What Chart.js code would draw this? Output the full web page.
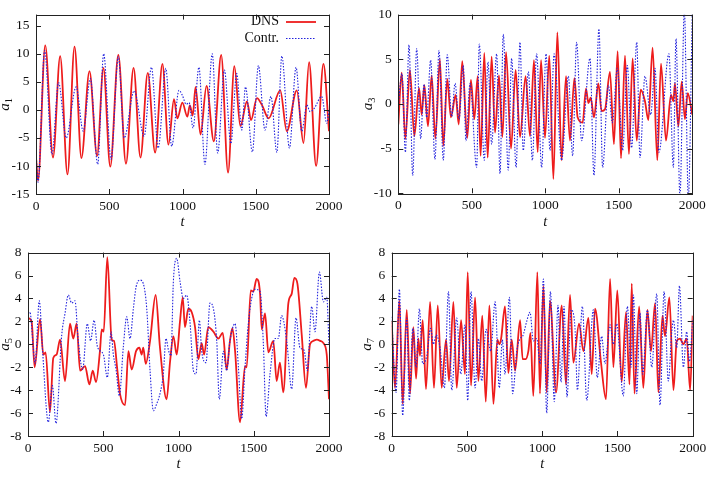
<!DOCTYPE html>
<html>
<head>
<meta charset="utf-8">
<script src="https://cdn.jsdelivr.net/npm/chart.js@4.4.0/dist/chart.umd.min.js"></script>
<style>
  html, body { margin: 0; padding: 0; background: #fff; }
  #wrap { position: relative; width: 712px; height: 477px; overflow: hidden; }
  #wrap canvas { position: absolute; }
</style>
</head>
<body>
<div id="wrap">
  <canvas id="c1" width="356" height="238" style="left:0;top:0"></canvas>
  <canvas id="c3" width="356" height="238" style="left:356px;top:0"></canvas>
  <canvas id="c5" width="356" height="239" style="left:0;top:238px"></canvas>
  <canvas id="c7" width="356" height="239" style="left:356px;top:238px"></canvas>
</div>
<script>
// --- DATA ---
const xTicks = [0, 500, 1000, 1500, 2000];

// a1
const a1Ticks = [-15, -10, -5, 0, 5, 10, 15];
const a1Range = [-15, 17];
const a1DnsT = [0, 14, 63, 116, 165, 215, 263, 310, 365, 417, 460, 507, 562, 614, 666, 713, 763, 813, 863, 904,
  942, 965, 999, 1033, 1050, 1070, 1089, 1123, 1164, 1214, 1264, 1311, 1354, 1395, 1440, 1468, 1508, 1542, 1588, 1667,
  1712, 1780, 1826, 1864, 1912, 1962, 2000];
const a1Dns = [-8.5, -12.6, 11.5, -8.5, 9.6, -11.5, 11.3, -8.6, 6.9, -8.2, 7.5, -10.1, 9.8, -9.6, 7.5, -8.5, 6.6, -7.6, 8.2, -6.2,
  1.9, -1.5, 1.3, -1.2, 0.8, -1.0, 4.1, -4.4, 4.3, -5.6, 9.8, -11.2, 7.8, -2.9, 1.5, -1.8, 2.1, 0.9, -1.5, 3.5,
  -3.8, 3.5, -5.9, 8.5, -10, 8.2, -3.8];
const a1CtrT = [0, 14, 59, 109, 154, 206, 274, 322, 371, 421, 462, 512, 562, 602, 670, 738, 788, 834, 886, 926,
  976, 999, 1025, 1045, 1072, 1112, 1153, 1203, 1240, 1286, 1330, 1370, 1405, 1430, 1477, 1518, 1563, 1604, 1644, 1678,
  1730, 1775, 1814, 1849, 1870, 1900, 1950, 1985, 2000];
const a1Ctr = [-7.4, -12.9, 10.6, -7.9, 4.9, -5.0, 4.1, -3.8, 5.6, -9.7, 10.0, -8.8, 9.5, -5.0, 3.4, -4.7, 7.6, -6.8, 7.4, -6.5,
  3.5, 2.6, 1.0, 1.3, -3.2, 7.6, -9.7, 10.0, -7.7, 7.1, -6.0, 6.5, -3.6, 4.1, -7.5, 7.9, -3.6, 2.4, -7.6, 9.6,
  -6.8, 7.6, -3.8, 0.9, -0.3, 0.3, 2.4, -2.4, 0];

// a3
const a3Ticks = [-10, -5, 0, 5, 10];
const a3Range = [-10, 10];
const a3DnsT = [0, 23, 48, 79, 109, 141, 159, 177, 202, 227, 252, 283, 306, 333, 358, 390, 411, 435, 469, 494,
  517, 540, 560, 585, 608, 635, 658, 685, 708, 733, 767, 798, 828, 866, 896, 923, 948, 971, 998, 1027,
  1055, 1082, 1111, 1141, 1168, 1198, 1220, 1254, 1277, 1293, 1309, 1331, 1361, 1383, 1406, 1440, 1467, 1492, 1515, 1542,
  1569, 1594, 1622, 1649, 1678, 1701, 1730, 1762, 1787, 1821, 1855, 1871, 1882, 1905, 1928, 1950, 1969, 2000];
const a3Dns = [-2.3, 3.5, -3.9, 3.8, -3.6, 1.8, -1.2, 2.1, -2.5, 3.2, -3.9, 5.0, -4.7, 2.8, -1.5, 1.0, -2.3, 4.8, -3.8, 2.7,
  -1.7, 3.1, -5.8, 5.7, -6.0, 5.3, -3.2, 3.2, -3.7, 5.8, -5.0, 3.8, -3.7, 3.1, -3.6, 4.9, -5.4, 4.9, -3.8, 5.4,
  -8.4, 8.0, -6.3, 3.1, -4.1, 2.9, -1.5, -2.1, 1.7, 0.1, 0.7, -1.5, 2.3, -0.8, -0.6, 3.6, -4.5, 5.9, -6.1, 5.4,
  -5.6, 5.1, -4.1, 1.6, 0.3, -1.8, 6.3, -6.3, 4.5, -4.1, 1.0, 0.3, 2.3, -2.5, 2.5, -1.7, 1.2, -1.2];
const a3CtrT = [0, 25, 48, 73, 98, 125, 152, 175, 193, 220, 249, 277, 306, 333, 363, 386, 413, 442, 460, 488,
  533, 551, 585, 610, 635, 669, 692, 714, 748, 771, 801, 828, 850, 885, 912, 941, 975, 1005, 1032, 1060,
  1111, 1157, 1186, 1213, 1247, 1304, 1331, 1365, 1390, 1429, 1456, 1490, 1526, 1558, 1587, 1622, 1644, 1678, 1717, 1746,
  1773, 1841, 1871, 1889, 1916, 1946, 1973, 2000];
const a3Ctr = [-0.1, 3.4, -5.4, 6.6, -8.0, 6.2, -3.9, 2.2, -1.5, 4.9, -6.2, 6.0, -6.3, 5.5, -1.4, 2.3, -1.7, 4.3, -4.1, 2.3,
  -7.1, 6.7, -6.3, 4.7, -4.5, 5.6, -7.8, 7.8, -7.4, 5.1, -7.1, 6.9, -5.2, 3.6, -6.3, 5.6, -7.1, 5.6, -5.2, 5.6,
  -6.3, 3.1, -5.8, 6.9, -4.1, 5.1, -8.0, 8.4, -7.1, 2.1, -2.1, 4.0, -5.2, 4.3, -4.9, 6.9, -6.0, 3.1, -1.2, 4.0,
  -5.4, 5.6, -7.1, 7.3, -10.3, 10.5, -10.5, 10.5];

// a5
const a5Ticks = [-8, -6, -4, -2, 0, 2, 4, 6, 8];
const a5Range = [-8, 8];
const a5DnsT = [0, 24, 44, 80, 102, 117, 146, 168, 190, 213, 246, 279, 301, 323, 346, 379, 408, 430, 452, 478,
  490, 503, 527, 556, 571, 594, 611, 645, 667, 689, 718, 740, 755, 766, 782, 811, 848, 877, 921, 944,
  966, 988, 1010, 1028, 1043, 1065, 1088, 1110, 1132, 1154, 1170, 1198, 1232, 1265, 1294, 1320, 1342, 1358, 1376, 1409,
  1442, 1453, 1480, 1497, 1519, 1542, 1553, 1575, 1597, 1630, 1652, 1674, 1696, 1730, 1752, 1770, 1790, 1819, 1847, 1874,
  1896, 1918, 1941, 1963, 1985, 2000];
const a5Dns = [2.3, 2.0, -2.0, 2.2, -0.9, -0.7, -5.9, -1.2, -0.9, 0.4, -3.2, 1.8, 0.5, 1.8, -2.3, -1.9, -3.5, -2.3, -3.3, -0.6,
  1.3, 1.1, 7.6, 0.4, 0.3, -2.3, -4.3, -5.3, -0.6, -2.2, -0.6, -0.3, -0.9, -0.3, -1.7, 0.3, 4.3, -0.3, -4.8, -1.5,
  0.7, -0.9, 2.0, 4.1, 1.5, 3.1, 2.8, 1.5, -1.3, 0.1, -0.9, 1.5, 1.1, 0.5, 1.0, -2.2, 0.3, 1.4, -0.6, -6.8,
  -1.9, -2.0, 4.7, 4.6, 5.7, 4.4, 1.3, 2.7, -0.7, 0.3, -3.2, -1.6, -4.2, 3.6, 4.4, 5.8, 5.3, 0.8, -3.8, 0,
  0.3, 0.4, 0.3, 0.1, -0.9, -4.8];
const a5CtrT = [0, 13, 35, 47, 75, 97, 135, 162, 186, 224, 246, 268, 290, 312, 334, 363, 394, 416, 439, 461,
  501, 527, 552, 567, 585, 607, 633, 656, 678, 700, 718, 744, 766, 789, 811, 833, 855, 877, 899, 917,
  933, 950, 966, 988, 1010, 1032, 1054, 1076, 1099, 1116, 1139, 1154, 1183, 1209, 1232, 1254, 1271, 1298, 1320, 1342,
  1376, 1398, 1420, 1442, 1464, 1486, 1508, 1542, 1564, 1582, 1608, 1641, 1663, 1685, 1719, 1752, 1781, 1807, 1834, 1856,
  1885, 1907, 1936, 1963, 1985, 2000];
const a5Ctr = [2.7, 2.8, -0.3, -1.7, 3.8, -0.6, -6.8, -3.6, -6.9, 0.8, 2.7, 4.3, 3.6, 3.8, 0.3, -2.2, 1.8, 0.3, 2.1, -0.2,
  -0.9, -2.9, 1.1, -0.9, -2.2, -4.5, -0.3, 2.4, 0.5, 3.1, 5.0, 5.6, 5.3, 3.1, -2.3, -5.8, -5.2, -4.3, -2.6, 0.5,
  -0.5, -1.0, 5.5, 7.5, 5.5, 4.0, 4.3, 2.0, -2.3, -2.6, 2.1, -0.6, -1.6, 3.6, 3.1, 0.3, -4.8, -0.6, -2.3, 0.3,
  1.8, -2.0, -6.5, -2.0, 1.8, 4.0, 4.8, 4.6, 0, -6.3, -2.6, 0.5, 0.5, 2.5, 0.3, -3.9, 2.3, -0.3, -0.5, -2.3,
  3.3, 1.1, 6.3, 3.7, 4.1, 0];

// a7
const a7Ticks = [-8, -6, -4, -2, 0, 2, 4, 6, 8];
const a7Range = [-8, 8];
const a7DnsT = [0, 22, 51, 73, 100, 122, 144, 162, 177, 188, 206, 228, 255, 281, 306, 332, 361, 381, 410, 432,
  461, 487, 505, 527, 554, 576, 602, 625, 649, 676, 702, 715, 727, 753, 775, 797, 820, 853, 870, 890,
  908, 922, 941, 968, 985, 1008, 1030, 1052, 1092, 1130, 1158, 1185, 1207, 1245, 1274, 1307, 1329, 1351, 1390, 1424, 1451,
  1473, 1499, 1528, 1557, 1580, 1595, 1613, 1644, 1672, 1699, 1723, 1750, 1772, 1799, 1816, 1845, 1872, 1894, 1916, 1938,
  1960, 1983, 2000];
const a7Dns = [2.0, -3.8, 3.8, -5.2, 3.0, -4.3, 1.5, -3.0, 0.5, -1.0, 2.1, -3.9, 3.7, -3.8, 3.4, -3.8, 0.4, -3.2, 3.7, -3.8,
  2.1, -2.6, 6.3, -3.6, 4.1, -3.2, 2.5, -5.0, 3.4, -5.2, 0.4, 0, 0.5, 3.3, -2.5, 0.4, -2.3, 2.1, -1.3, -1.3,
  -0.6, 1.0, -4.5, 6.3, -4.3, 5.1, -4.2, 3.8, -4.2, 3.4, -3.5, 4.3, -1.6, 1.8, -0.6, 2.3, -2.6, 3.1, -1.5, -4.8, 5.7,
  -2.0, 4.7, -3.3, 2.8, -3.5, 5.3, -4.3, 3.3, -3.8, 3.0, -0.6, 3.6, -4.2, 2.5, 0.7, 4.1, -4.0, 0.3, 0.5, 0,
  0.5, -4.0, 2.5];
const a7CtrT = [0, 29, 51, 73, 100, 117, 140, 162, 184, 206, 233, 259, 277, 295, 321, 350, 377, 399, 432, 459,
  487, 505, 527, 554, 576, 598, 627, 658, 687, 715, 735, 753, 782, 804, 831, 853, 870, 897, 919, 941,
  964, 986, 1008, 1030, 1055, 1080, 1105, 1125, 1145, 1165, 1192, 1218, 1234, 1267, 1296, 1340, 1366, 1395, 1417, 1451,
  1473, 1495, 1539, 1566, 1590, 1606, 1628, 1650, 1668, 1699, 1728, 1761, 1783, 1810, 1838, 1861, 1872, 1894, 1912, 1938,
  1960, 1978, 2000];
const a7Ctr = [2.4, -4.2, 4.8, -6.2, 2.3, -4.9, 1.4, -2.0, 3.1, -1.7, -1.0, 1.4, 0, 0.8, -0.3, -3.8, 4.6, -4.0, 2.3, -2.6,
  1.7, -4.9, 4.6, -3.8, 0.5, -3.2, 1.3, -0.6, 3.7, -3.8, 0.4, -2.6, 4.1, -4.3, -0.6, 0.5, 0.7, 2.0, 2.8, 0.3,
  0.5, -1.7, 5.7, -6.0, 4.6, -5.0, 3.4, -3.3, 3.3, -4.6, 3.0, 1.4, -4.0, 3.3, -4.9, 3.0, -2.9, 0.7, -1.7, 1.7,
  0, 1.8, -4.5, 3.3, -2.0, 4.3, -4.3, 2.7, -2.6, 3.0, -2.0, 4.4, -5.3, 4.6, -3.2, 1.1, 2.1, -0.3, 5.1, -2.0,
  1.1, -1.5, 2.1];

// --- STYLE ---
const RED = '#ee1c1c';
const BLUE = '#2222dd';
const SERIF = '"Liberation Serif", "DejaVu Serif", serif';
Chart.defaults.font.family = SERIF;
Chart.defaults.font.size = 13.5;
Chart.defaults.color = '#111';

const pts = (t, v) => t.map((x, i) => ({ x, y: v[i] }));

// frame + inward tics on all four sides (gnuplot style)
const framePlugin = {
  id: 'frame',
  afterDatasetsDraw(chart) {
    const { ctx, chartArea: a, scales } = chart;
    const len = 5;
    ctx.save();
    ctx.strokeStyle = '#222';
    ctx.lineWidth = 1;
    ctx.beginPath();
    scales.x.ticks.forEach(t => {
      const px = Math.round(scales.x.getPixelForValue(t.value)) + 0.5;
      ctx.moveTo(px, a.bottom); ctx.lineTo(px, a.bottom - len);
      ctx.moveTo(px, a.top); ctx.lineTo(px, a.top + len);
    });
    scales.y.ticks.forEach(t => {
      const py = Math.round(scales.y.getPixelForValue(t.value)) + 0.5;
      ctx.moveTo(a.left, py); ctx.lineTo(a.left + len, py);
      ctx.moveTo(a.right, py); ctx.lineTo(a.right - len, py);
    });
    ctx.stroke();
    ctx.strokeRect(Math.round(a.left) + 0.5, Math.round(a.top) + 0.5,
      Math.round(a.right - a.left), Math.round(a.bottom - a.top));
    ctx.restore();
  }
};

// rotated y label "a" with a real subscript digit
const yLabelPlugin = (sym, sub, xb) => ({
  id: 'ylabel',
  afterDraw(chart) {
    const { ctx, chartArea: a } = chart;
    const cy = (a.top + a.bottom) / 2;
    ctx.save();
    ctx.translate(xb, cy);
    ctx.rotate(-Math.PI / 2);
    ctx.fillStyle = '#111';
    ctx.textBaseline = 'alphabetic';
    ctx.font = 'italic 15px ' + SERIF;
    const w1 = ctx.measureText(sym).width;
    ctx.font = '10.5px ' + SERIF;
    const w2 = ctx.measureText(sub).width;
    const x0 = -(w1 + w2) / 2;
    ctx.font = 'italic 15px ' + SERIF;
    ctx.fillText(sym, x0, 0);
    ctx.font = '10.5px ' + SERIF;
    ctx.fillText(sub, x0 + w1, 3);
    ctx.restore();
  }
});

// key box in the top right of the first panel
const keyPlugin = {
  id: 'key',
  afterDraw(chart) {
    const { ctx } = chart;
    ctx.save();
    ctx.font = '14px ' + SERIF;
    ctx.fillStyle = '#111';
    ctx.textAlign = 'right';
    ctx.textBaseline = 'middle';
    ctx.fillText('DNS', 279, 21);
    ctx.fillText('Contr.', 279, 38);
    ctx.strokeStyle = RED;
    ctx.lineWidth = 1.8;
    ctx.beginPath(); ctx.moveTo(286, 22); ctx.lineTo(316, 22); ctx.stroke();
    ctx.strokeStyle = BLUE;
    ctx.lineWidth = 1.1;
    ctx.setLineDash([1.5, 1.5]);
    ctx.beginPath(); ctx.moveTo(286, 38.5); ctx.lineTo(316, 38.5); ctx.stroke();
    ctx.restore();
  }
};

function makePanel(id, p) {
  const extra = [framePlugin, yLabelPlugin('a', p.sub, p.xb)];
  if (p.key) extra.push(keyPlugin);
  return new Chart(document.getElementById(id), {
    type: 'line',
    data: {
      datasets: [
        { label: 'Contr.', data: pts(p.ctrT, p.ctr), borderColor: BLUE, borderWidth: 1.1,
          borderDash: [1.5, 1.5], pointRadius: 0, cubicInterpolationMode: 'monotone', order: 0 },
        { label: 'DNS', data: pts(p.dnsT, p.dns), borderColor: RED, borderWidth: 1.8,
          pointRadius: 0, cubicInterpolationMode: 'monotone', order: 1 }
      ]
    },
    options: {
      responsive: false,
      animation: false,
      events: [],
      layout: { padding: p.pad },
      plugins: { legend: { display: false }, tooltip: { enabled: false } },
      scales: {
        x: {
          type: 'linear', min: 0, max: 2000,
          afterBuildTicks: s => { s.ticks = xTicks.map(v => ({ value: v })); },
          afterFit: s => { s.height = p.xH; },
          grid: { display: false, drawTicks: false },
          border: { display: false },
          ticks: { padding: 4, maxRotation: 0, callback: v => String(v) },
          title: { display: true, text: 't', font: { style: 'italic', size: 14.5 },
            padding: { top: 0, bottom: p.tB } }
        },
        y: {
          type: 'linear', min: p.range[0], max: p.range[1],
          afterBuildTicks: s => { s.ticks = p.ticks.map(v => ({ value: v })); },
          afterFit: s => { s.width = p.yW; },
          grid: { display: false, drawTicks: false },
          border: { display: false },
          ticks: { padding: 6.5, callback: v => String(v) }
        }
      }
    },
    plugins: extra
  });
}

makePanel('c1', { sub: '1', dnsT: a1DnsT, dns: a1Dns, ctrT: a1CtrT, ctr: a1Ctr, ticks: a1Ticks, range: a1Range,
  pad: { left: 0, right: 27, top: 12, bottom: 0 }, yW: 36, xH: 44, tB: 7, xb: 9, key: true });
makePanel('c3', { sub: '3', dnsT: a3DnsT, dns: a3Dns, ctrT: a3CtrT, ctr: a3Ctr, ticks: a3Ticks, range: a3Range,
  pad: { left: 0, right: 19.7, top: 12.3, bottom: 0 }, yW: 42.3, xH: 44.7, tB: 7, xb: 15.5 });
makePanel('c5', { sub: '5', dnsT: a5DnsT, dns: a5Dns, ctrT: a5CtrT, ctr: a5Ctr, ticks: a5Ticks, range: a5Range,
  pad: { left: 0, right: 27, top: 12, bottom: 0 }, yW: 28, xH: 41, tB: 4.5, xb: 9 });
makePanel('c7', { sub: '7', dnsT: a7DnsT, dns: a7Dns, ctrT: a7CtrT, ctr: a7Ctr, ticks: a7Ticks, range: a7Range,
  pad: { left: 0, right: 19.3, top: 12, bottom: 0 }, yW: 35.7, xH: 41, tB: 4.5, xb: 14.5 });
</script>
</body>
</html>
